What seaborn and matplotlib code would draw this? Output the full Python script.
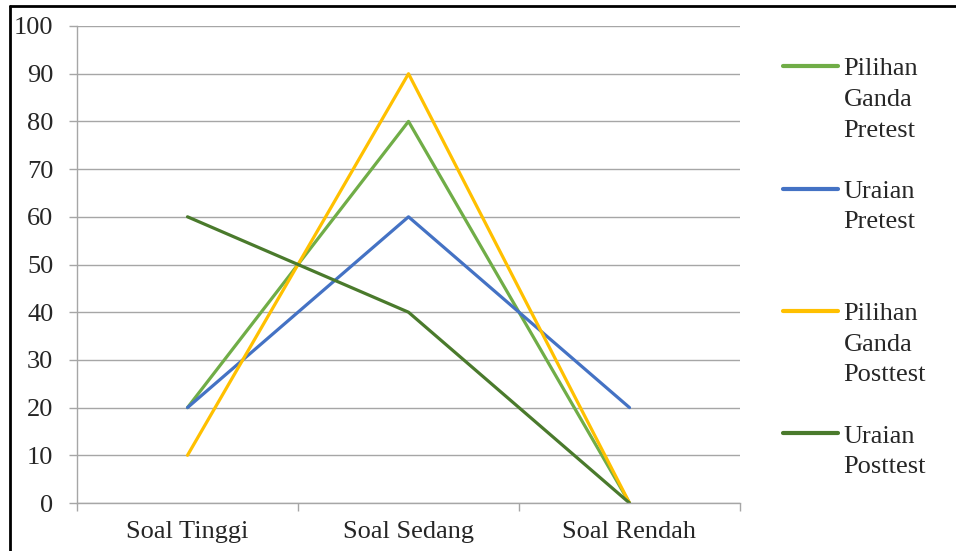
import pandas as pd
import matplotlib.pyplot as plt
import seaborn as sns
from matplotlib.lines import Line2D

kategori = ["Soal Tinggi", "Soal Sedang", "Soal Rendah"]
seri = ["Pilihan Ganda Pretest", "Uraian Pretest", "Pilihan Ganda Posttest", "Uraian Posttest"]
pg_pretest = [20, 80, 0]
uraian_pretest = [20, 60, 20]
pg_posttest = [10, 90, 0]
uraian_posttest = [60, 40, 0]
warna = ["#70AD47", "#4472C4", "#FFC000", "#4A7A2C"]
label_legenda = [["Pilihan", "Ganda", "Pretest"], ["Uraian", "Pretest"],
                 ["Pilihan", "Ganda", "Posttest"], ["Uraian", "Posttest"]]

nilai = [pg_pretest, uraian_pretest, pg_posttest, uraian_posttest]
dane = pd.DataFrame({
    "kategori": kategori * len(seri),
    "seri": [s for s in seri for _ in kategori],
    "nilai": [v for n in nilai for v in n],
})

sns.set_style("white")
plt.rcParams["font.family"] = ["Liberation Serif", "DejaVu Serif"]
fs = 19

fig = plt.figure(figsize=(9.56, 5.51), dpi=100)
ax = fig.add_axes([77 / 956, 1 - 503 / 551, (740 - 77) / 956, (503 - 26) / 551])

sns.lineplot(data=dane, x="kategori", y="nilai", hue="seri", hue_order=seri,
             palette=warna, sort=False, linewidth=2.3, ax=ax, legend=False)

ax.set_xlim(-0.5, 2.5)
ax.set_ylim(0, 100)
ax.set_yticks(range(0, 101, 10))
ax.set_xticks([0, 1, 2])
ax.set_xticklabels(kategori)
ax.set_xticks([-0.5, 0.5, 1.5, 2.5], minor=True)
ax.set_xlabel("")
ax.set_ylabel("")
ax.grid(axis="y", color="#A6A6A6", linewidth=1.0)
ax.set_axisbelow(True)
for s in ["top", "right"]:
    ax.spines[s].set_visible(False)
for s in ["left", "bottom"]:
    ax.spines[s].set_color("#A6A6A6")
    ax.spines[s].set_linewidth(1.0)
ax.tick_params(axis="y", which="major", length=6, color="#A6A6A6", width=1.0,
               pad=11, labelsize=fs, left=True)
ax.tick_params(axis="x", which="major", length=0, pad=13, labelsize=fs)
ax.tick_params(axis="x", which="minor", length=6, color="#A6A6A6", width=1.0,
               bottom=True)

# legenda: setiap entri 4 baris supaya jaraknya sama seperti di Excel
handles, labels = [], []
for w, lab in zip(warna, label_legenda):
    baris = lab + [" "] * (4 - len(lab))
    for i, b in enumerate(baris):
        handles.append(Line2D([], [], color=w if i == 0 else "none", linewidth=3))
        labels.append(b)
fig.legend(handles, labels, loc="upper left", bbox_to_anchor=(783 / 956, 1 - 57 / 551),
           frameon=False, fontsize=fs, handlelength=2.1, handletextpad=0.2,
           labelspacing=0.27, borderpad=0, borderaxespad=0)

# bingkai hitam kiri & atas
fig.add_artist(Line2D([10 / 956, 10 / 956], [0, 1 - 6 / 551], color="black",
                      linewidth=2, transform=fig.transFigure))
fig.add_artist(Line2D([10 / 956, 1], [1 - 6 / 551, 1 - 6 / 551], color="black",
                      linewidth=2, transform=fig.transFigure))

fig.savefig("out.png", dpi=100)
